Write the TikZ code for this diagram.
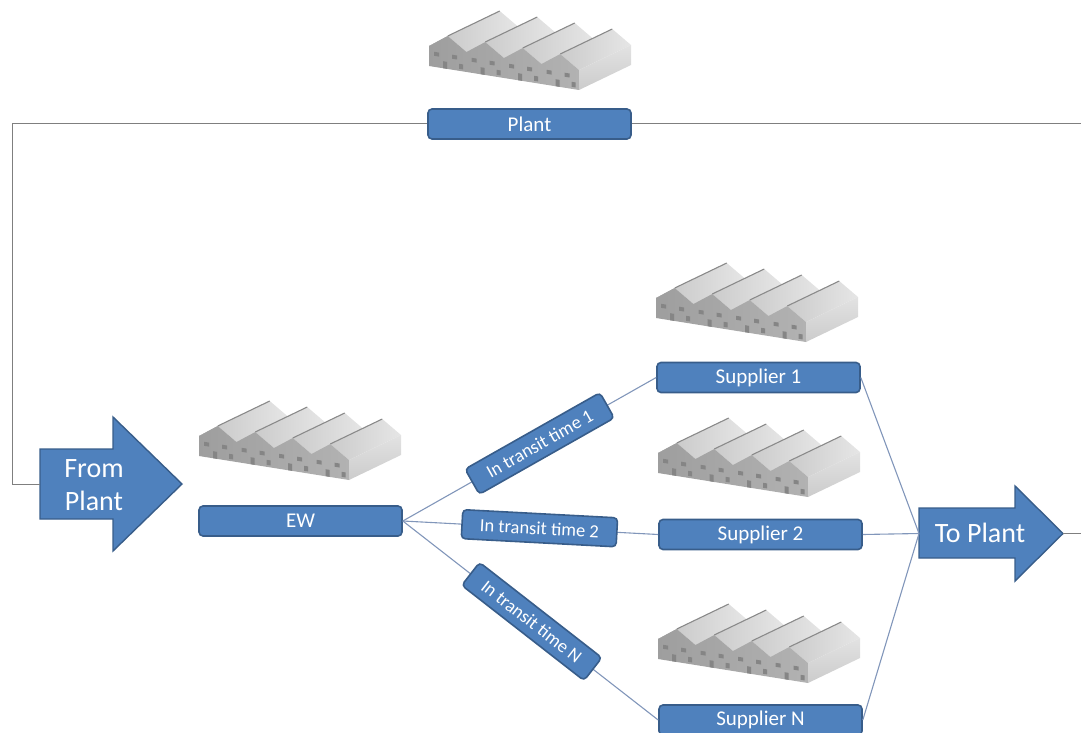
\documentclass[tikz,border=0pt]{standalone}
\usepackage{fontspec}
\setmainfont{Carlito}
\usetikzlibrary{calc}

\definecolor{boxfill}{HTML}{4F81BD}
\definecolor{boxedge}{HTML}{385D8A}
\definecolor{loopgray}{HTML}{7F7F7F}
\definecolor{linkblue}{HTML}{8196BA}
\definecolor{frontL}{HTML}{9E9E9E}
\definecolor{frontR}{HTML}{B2B2B2}
\definecolor{roofA}{HTML}{CBCBCB}
\definecolor{roofB}{HTML}{E6E6E6}
\definecolor{roofback}{HTML}{A8A8A8}
\definecolor{sideT}{HTML}{E2E2E2}
\definecolor{sideB}{HTML}{CCCCCC}
\definecolor{ridgegray}{HTML}{8A8A8A}
\definecolor{wingray}{HTML}{858585}

\tikzset{
  mainbox/.style={rectangle, rounded corners=4pt, fill=boxfill, draw=boxedge,
    line width=1.6pt, text=white, inner sep=0pt, minimum width=203pt,
    minimum height=30pt, font=\fontsize{21}{25}\selectfont},
  transit/.style={rectangle, rounded corners=4pt, fill=boxfill, draw=boxedge,
    line width=1.6pt, text=white, inner sep=0pt, minimum width=155pt,
    minimum height=29pt, font=\fontsize{18.5}{22}\selectfont},
  bigarrow/.style={fill=boxfill, draw=boxedge, line width=1.4pt, line join=miter},
  arrowtext/.style={text=white, align=center, inner sep=0pt,
    font=\fontsize{28}{33}\selectfont},
  loopline/.style={draw=loopgray, line width=1pt},
  link/.style={draw=linkblue, line width=1.1pt},
  % isometric warehouse: four gabled bays, origin at the front-left foot
  warehouse/.pic={
    \foreach \i in {0,1,2,3}{
      \pgfmathsetmacro{\ux}{37.5*\i}
      \pgfmathsetmacro{\uy}{6*\i}
      \fill[roofback] (\ux,\uy-20) -- ++(18.75,-10) -- ++(52,-25) -- ++(-18.75,10) -- cycle;
    }
    \foreach \i in {0,1,2,3}{
      \pgfmathsetmacro{\ux}{37.5*\i}
      \pgfmathsetmacro{\uy}{6*\i}
      \shade[left color=roofA, right color=roofB]
        (\ux+18.75,\uy-30) -- ++(18.75,16) -- ++(52,-25) -- ++(-18.75,-16) -- cycle;
      \draw[ridgegray, line width=1.1pt] (\ux+18.75,\uy-30) -- ++(52,-25);
    }
    \shade[left color=frontL, right color=frontR]
      (0,0) -- (0,-20) -- (18.75,-30) -- (37.5,-14) -- (56.25,-24) -- (75,-8)
      -- (93.75,-18) -- (112.5,-2) -- (131.25,-12) -- (150,4) -- (150,24) -- cycle;
    \shade[top color=sideT, bottom color=sideB]
      (150,24) -- (150,4) -- (202,-21) -- (202,-1) -- cycle;
    \foreach \i in {0,1,2,3}{
      \pgfmathsetmacro{\ux}{37.5*\i}
      \pgfmathsetmacro{\uy}{6*\i}
      \fill[wingray] (\ux+5,\uy-14.2) -- ++(5,0.8) -- ++(0,4) -- ++(-5,-0.8) -- cycle;
      \fill[wingray] (\ux+23,\uy-11.3) -- ++(5,0.8) -- ++(0,4) -- ++(-5,-0.8) -- cycle;
      \fill[wingray] (\ux+14,\uy-4.8) -- ++(4,0.64) -- ++(0,7) -- ++(-4,-0.64) -- cycle;
      \fill[wingray] (\ux+30,\uy-2.2) -- ++(4,0.64) -- ++(0,5) -- ++(-4,-0.64) -- cycle;
    }
  }
}

\begin{document}
\begin{tikzpicture}[x=1pt, y=-1pt]
  \useasboundingbox (0,0) rectangle (1081,733);
  \clip (0,0) rectangle (1081,733);

  % buildings
  \pic at (429,66) {warehouse};
  \pic at (199,456) {warehouse};
  \pic at (656,318) {warehouse};
  \pic at (658,473) {warehouse};
  \pic at (658,659) {warehouse};

  % boxes
  \node[mainbox] (plant) at (529.5,124) {Plant};
  \node[mainbox] (ew)    at (300.5,521) {EW};
  \node[mainbox] (s1)    at (758.5,377.5) {Supplier 1};
  \node[mainbox] (s2)    at (760.5,534.5) {Supplier 2};
  \node[mainbox] (sN)    at (760.5,720) {Supplier N};

  % block arrows
  \filldraw[bigarrow] (40,449) -- (113,449) -- (113,417) -- (182,484)
    -- (113,551) -- (113,519) -- (40,519) -- cycle;
  \coordinate (fromtail) at (40,484);
  \node[arrowtext] (fromlbl) at (94,485) {From\\Plant};

  \filldraw[bigarrow] (919,508) -- (1015,508) -- (1015,486) -- (1063,533.5)
    -- (1015,581) -- (1015,558) -- (919,558) -- cycle;
  \coordinate (totail) at (919,533.5);
  \coordinate (totip) at (1063,533.5);
  \node[arrowtext] (tolbl) at (980,533) {To Plant};

  % return loop from the plant
  \coordinate (loopcorner) at (12,124);
  \coordinate (rightend) at (1081,124);
  \coordinate (outend) at (1081,533.5);
  \draw[loopline] (plant.west) -- (loopcorner) |- (fromtail);
  \draw[loopline] (plant.east) -- (rightend);
  \draw[loopline] (totip) -- (outend);

  % transit legs
  \draw[link] (ew.east) -- node[transit, sloped, pos=0.54] (t1) {In transit time 1} (s1.west);
  \draw[link] (ew.east) -- node[transit, sloped, pos=0.535] (t2) {In transit time 2} (s2.west);
  \draw[link] (ew.east) -- node[transit, sloped, pos=0.505] (tN) {In transit time N} (sN.west);

  % suppliers to plant
  \draw[link] (s1.east) -- (totail);
  \draw[link] (s2.east) -- (totail);
  \draw[link] (sN.east) -- (totail);
\end{tikzpicture}
\end{document}
